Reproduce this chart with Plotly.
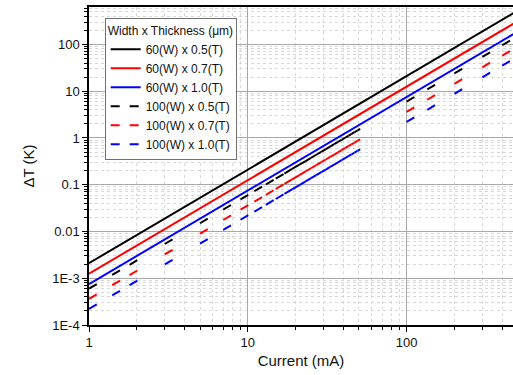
import plotly.graph_objects as go

# ---------------- data ----------------
current_60 = [1, 500]
dT_60x05 = [2.1e-3, 525]
dT_60x07 = [1.25e-3, 312]
dT_60x10 = [7.5e-4, 188]

current_100_low = [1, 1.4, 1.8, 3, 5, 7, 9, 11, 13, 15, 17, 19, 21, 23, 25, 27,
                   29, 31, 33, 35, 37, 39, 41, 43, 45, 47, 49, 51]
current_100_high = [100, 135, 200, 300, 400, 500]

dT_100x05_low = [6.0e-4, 1.18e-3, 1.94e-3, 5.4e-3, 0.015, 0.0294, 0.0486, 0.0726,
                 0.101, 0.135, 0.173, 0.217, 0.265, 0.317, 0.375, 0.437, 0.505,
                 0.577, 0.653, 0.735, 0.821, 0.913, 1.01, 1.11, 1.22, 1.33, 1.44, 1.56]
dT_100x07_low = [3.6e-4, 7.1e-4, 1.17e-3, 3.24e-3, 9.0e-3, 0.0176, 0.0292, 0.0436,
                 0.0608, 0.081, 0.104, 0.130, 0.159, 0.190, 0.225, 0.262, 0.303,
                 0.346, 0.392, 0.441, 0.493, 0.548, 0.605, 0.666, 0.729, 0.795, 0.864, 0.936]
dT_100x10_low = [2.2e-4, 4.3e-4, 7.1e-4, 1.98e-3, 5.5e-3, 0.0108, 0.0178, 0.0266,
                 0.0372, 0.0495, 0.0636, 0.0794, 0.097, 0.116, 0.138, 0.160, 0.185,
                 0.211, 0.240, 0.270, 0.301, 0.335, 0.370, 0.407, 0.446, 0.486, 0.528, 0.572]
dT_100x05_high = [6.0, 10.9, 24, 54, 96, 150]
dT_100x07_high = [3.6, 6.56, 14.4, 32.4, 57.6, 90]
dT_100x10_high = [2.2, 4.0, 8.8, 19.8, 35.2, 55]

names_60 = ["60(W) x 0.5(T)", "60(W) x 0.7(T)", "60(W) x 1.0(T)"]
names_100 = ["100(W) x 0.5(T)", "100(W) x 0.7(T)", "100(W) x 1.0(T)"]
colors = ["#000000", "#ff0000", "#0000ff"]

x_tickvals = [1, 10, 100]
x_ticktext = ["1", "10", "100"]
y_tickvals = [1e-4, 1e-3, 1e-2, 1e-1, 1, 10, 100]
y_ticktext = ["1E-4", "1E-3", "0.01", "0.1", "1", "10", "100"]


def segments(xs, ys):
    sx, sy = [], []
    for i in range(len(xs) - 1):
        sx += [xs[i], xs[i + 1], None]
        sy += [ys[i], ys[i + 1], None]
    return sx, sy


FONT = "Liberation Sans, Arial, sans-serif"
fig = go.Figure()

for name, ys, c in zip(names_60, [dT_60x05, dT_60x07, dT_60x10], colors):
    fig.add_trace(go.Scatter(x=current_60, y=ys, mode="lines", name=name,
                             line=dict(color=c, width=2)))

lows = [dT_100x05_low, dT_100x07_low, dT_100x10_low]
highs = [dT_100x05_high, dT_100x07_high, dT_100x10_high]
for name, lo, hi, c in zip(names_100, lows, highs, colors):
    ax, ay = segments(current_100_low, lo)
    bx, by = segments(current_100_high, hi)
    fig.add_trace(go.Scatter(x=ax + bx, y=ay + by, mode="lines", name=name,
                             legendgroup=name, showlegend=False, connectgaps=False,
                             line=dict(color=c, width=2, dash="9px,100px")))
    fig.add_trace(go.Scatter(x=[None], y=[None], mode="lines", name=name,
                             legendgroup=name,
                             line=dict(color=c, width=2, dash="9px,10px")))

minor_x = [m * d for d in (1, 10, 100) for m in range(2, 10) if m * d < 480]
minor_y = [m * d for d in (1e-4, 1e-3, 1e-2, 1e-1, 1, 10, 100) for m in range(2, 10) if m * d < 620]

fig.update_layout(
    width=513, height=375,
    margin=dict(l=89, r=0, t=7, b=50),
    paper_bgcolor="white", plot_bgcolor="white",
    font=dict(family=FONT, size=13, color="#111111"),
    showlegend=True,
    hovermode=False,
    legend=dict(
        x=0.037, y=0.965, xanchor="left", yanchor="top",
        bgcolor="white", bordercolor="#707070", borderwidth=1,
        font=dict(family=FONT, size=12, color="#111111"),
        title=dict(text="Width x Thickness (μm)", font=dict(family=FONT, size=12)),
        tracegroupgap=0,
    ),
    xaxis=dict(
        type="log", range=[0, 2.670], automargin=False,
        tickvals=x_tickvals, ticktext=x_ticktext,
        ticks="outside", ticklen=5, tickwidth=1, tickcolor="black",
        showline=True, linecolor="black", linewidth=1.5, mirror=True,
        showgrid=True, gridcolor="#a8a8a8", gridwidth=1,
        zeroline=False,
        minor=dict(tickvals=minor_x, ticks="outside", ticklen=3, tickcolor="black",
                   showgrid=True, gridcolor="#d8d8d8", griddash="dot", gridwidth=1),
        title=dict(text="Current (mA)", font=dict(family=FONT, size=15), standoff=6),
        tickfont=dict(family=FONT, size=13),
    ),
    yaxis=dict(
        type="log", range=[-4, 2.80], automargin=False,
        tickvals=y_tickvals, ticktext=y_ticktext,
        ticks="outside", ticklen=5, tickwidth=1, tickcolor="black",
        showline=True, linecolor="black", linewidth=1.5,
        showgrid=True, gridcolor="#a8a8a8", gridwidth=1,
        zeroline=False,
        minor=dict(tickvals=minor_y, ticks="outside", ticklen=3, tickcolor="black",
                   showgrid=True, gridcolor="#d8d8d8", griddash="dot", gridwidth=1),
        title=dict(text="ΔT (K)", font=dict(family=FONT, size=15), standoff=14),
        tickfont=dict(family=FONT, size=13),
    ),
)

fig.write_html("out.html", config={"displayModeBar": False},
               post_script="document.body.style.margin='0';")
